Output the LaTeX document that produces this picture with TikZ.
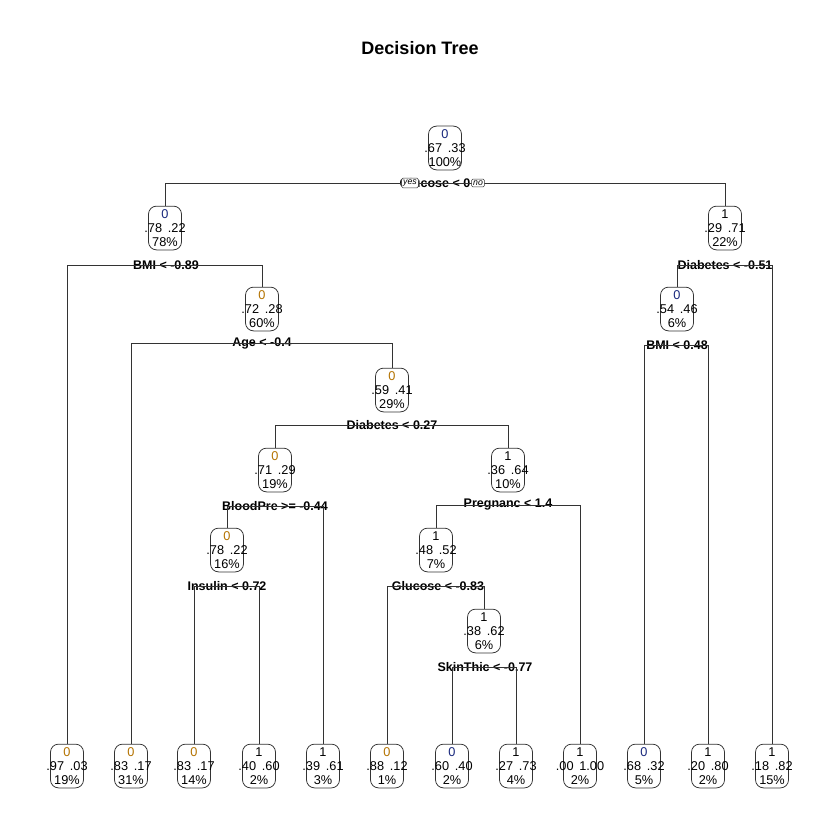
\documentclass[tikz,border=0pt]{standalone}
\usepackage{fontspec}
\setmainfont{Liberation Sans}
\usepackage{xcolor}

\definecolor{zeroblue}{RGB}{25,40,125}
\definecolor{zeroorange}{RGB}{180,115,0}

% three lines of a tree node: class, probabilities, share
\newcommand{\cls}[5]{\makebox[0pt]{\textcolor{#1}{#2}}\\\makebox[0pt]{#3\hspace{0.45em}#4}\\\makebox[0pt]{#5}}

\begin{document}
\begin{tikzpicture}[x=0.8pt, y=-0.8pt,
  tnode/.style={draw=black!80, line width=0.6pt, rounded corners=6.4pt, minimum width=26.4pt, minimum height=35pt, inner sep=0pt, align=center, font=\fontsize{10.2}{11.2}\selectfont},
  split/.style={inner sep=0pt, font=\bfseries\fontsize{10}{11}\selectfont},
  edge/.style={draw=black!80, line width=0.6pt},
  yesno/.style={draw=black!80, fill=white, rounded corners=1pt, inner xsep=1.2pt, inner ysep=1.2pt, font=\itshape\fontsize{7}{7}\selectfont}]
  \fill[white] (0,0) rectangle (840,840);
  \node[font=\bfseries\fontsize{14.4}{16}\selectfont] (title) at (420,48) {Decision Tree};

  % inner nodes
  \node[tnode] (root) at (445,148) {\cls{zeroblue}{0}{.67}{.33}{100\%}};
  \node[tnode] (n2) at (165,228) {\cls{zeroblue}{0}{.78}{.22}{78\%}};
  \node[tnode] (n3) at (725,228) {\cls{black}{1}{.29}{.71}{22\%}};
  \node[tnode] (n4) at (262,309) {\cls{zeroorange}{0}{.72}{.28}{60\%}};
  \node[tnode] (n5) at (677,309) {\cls{zeroblue}{0}{.54}{.46}{6\%}};
  \node[tnode] (n6) at (392,390) {\cls{zeroorange}{0}{.59}{.41}{29\%}};
  \node[tnode] (n7) at (275,470) {\cls{zeroorange}{0}{.71}{.29}{19\%}};
  \node[tnode] (n8) at (508,470) {\cls{black}{1}{.36}{.64}{10\%}};
  \node[tnode] (n9) at (227,550) {\cls{zeroorange}{0}{.78}{.22}{16\%}};
  \node[tnode] (n10) at (436,550) {\cls{black}{1}{.48}{.52}{7\%}};
  \node[tnode] (n11) at (484,631) {\cls{black}{1}{.38}{.62}{6\%}};

  % split labels
  \node[split] (sroot) at (435,183) {Glucose < 0};
  \node[split] (s2) at (166,265) {BMI < -0.89};
  \node[split] (s3) at (725,265) {Diabetes < -0.51};
  \node[split] (s4) at (262,343) {Age < -0.4};
  \node[split] (s5) at (677,345) {BMI < 0.48};
  \node[split] (s6) at (392,425) {Diabetes < 0.27};
  \node[split] (s7) at (275,506) {BloodPre >= -0.44};
  \node[split] (s8) at (508,505) {Pregnanc < 1.4};
  \node[split] (s9) at (227,586) {Insulin < 0.72};
  \node[split] (s10) at (438,586) {Glucose < -0.83};
  \node[split] (s11) at (485,667) {SkinThic < -0.77};

  % leaves
  \node[tnode] (l1) at (67,766) {\cls{zeroorange}{0}{.97}{.03}{19\%}};
  \node[tnode] (l2) at (131,766) {\cls{zeroorange}{0}{.83}{.17}{31\%}};
  \node[tnode] (l3) at (194,766) {\cls{zeroorange}{0}{.83}{.17}{14\%}};
  \node[tnode] (l4) at (259,766) {\cls{black}{1}{.40}{.60}{2\%}};
  \node[tnode] (l5) at (323,766) {\cls{black}{1}{.39}{.61}{3\%}};
  \node[tnode] (l6) at (387,766) {\cls{zeroorange}{0}{.88}{.12}{1\%}};
  \node[tnode] (l7) at (452,766) {\cls{zeroblue}{0}{.60}{.40}{2\%}};
  \node[tnode] (l8) at (516,766) {\cls{black}{1}{.27}{.73}{4\%}};
  \node[tnode] (l9) at (580,766) {\cls{black}{1}{.00}{1.00}{2\%}};
  \node[tnode] (l10) at (644,766) {\cls{zeroblue}{0}{.68}{.32}{5\%}};
  \node[tnode] (l11) at (708,766) {\cls{black}{1}{.20}{.80}{2\%}};
  \node[tnode] (l12) at (772,766) {\cls{black}{1}{.18}{.82}{15\%}};

  % branches
  \draw[edge] (sroot.center) -| (n2.north);
  \draw[edge] (sroot.center) -| (n3.north);
  \draw[edge] (s2.center) -| (l1.north);
  \draw[edge] (s2.center) -| (n4.north);
  \draw[edge] (s3.center) -| (n5.north);
  \draw[edge] (s3.center) -| (l12.north);
  \draw[edge] (s4.center) -| (l2.north);
  \draw[edge] (s4.center) -| (n6.north);
  \draw[edge] (s5.center) -| (l10.north);
  \draw[edge] (s5.center) -| (l11.north);
  \draw[edge] (s6.center) -| (n7.north);
  \draw[edge] (s6.center) -| (n8.north);
  \draw[edge] (s7.center) -| (n9.north);
  \draw[edge] (s7.center) -| (l5.north);
  \draw[edge] (s8.center) -| (n10.north);
  \draw[edge] (s8.center) -| (l9.north);
  \draw[edge] (s9.center) -| (l3.north);
  \draw[edge] (s9.center) -| (l4.north);
  \draw[edge] (s10.center) -| (l6.north);
  \draw[edge] (s10.center) -| (n11.north);
  \draw[edge] (s11.center) -| (l7.north);
  \draw[edge] (s11.center) -| (l8.north);

  \node[yesno] (yes) at (410,183) {yes};
  \node[yesno] (no) at (478,183) {no};
\end{tikzpicture}
\end{document}
